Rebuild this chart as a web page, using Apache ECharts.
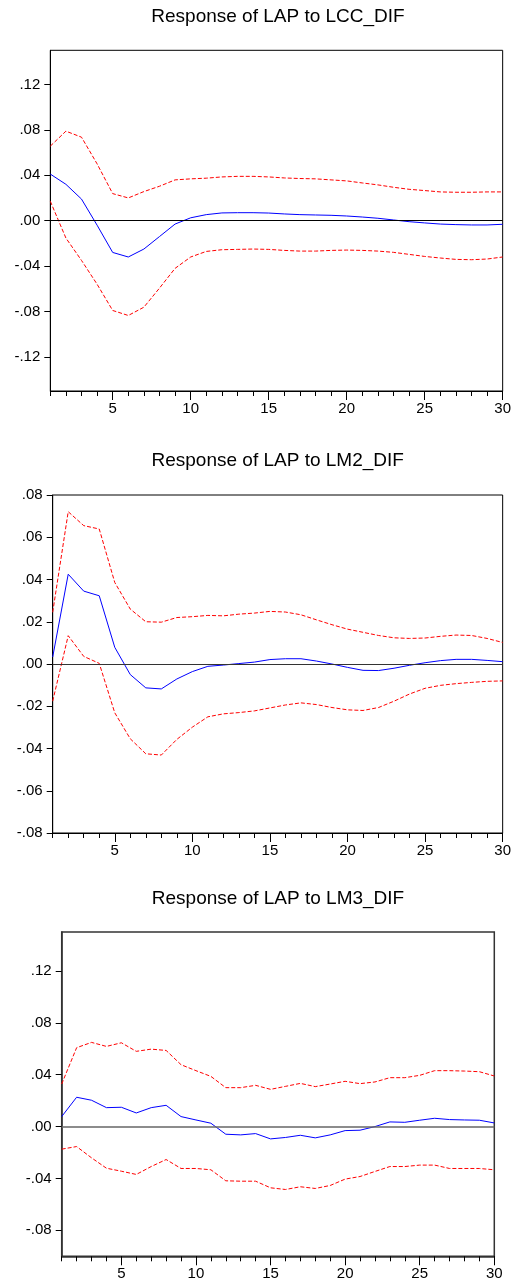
<!DOCTYPE html>
<html>
<head>
<meta charset="utf-8">
<title>Impulse responses of LAP</title>
<script src="https://cdn.jsdelivr.net/npm/echarts@6/dist/echarts.min.js"></script>
<style>
  html, body { margin: 0; padding: 0; background: #ffffff; }
  #chart { width: 514px; height: 1283px; }
</style>
</head>
<body>
<div id="chart"></div>
<script>
// Forecast horizon (periods after the shock)
const periods = [1,2,3,4,5,6,7,8,9,10,11,12,13,14,15,16,17,18,19,20,21,22,23,24,25,26,27,28,29,30];

// Response of LAP to a shock in LCC_DIF, with +/- 2 S.E. bands
const lccResponse = [0.041, 0.032, 0.019, -0.004, -0.028, -0.032, -0.025, -0.014, -0.003, 0.0025,
                     0.0053, 0.0068, 0.007, 0.007, 0.0067, 0.0059, 0.0053, 0.005, 0.0047, 0.0041,
                     0.0032, 0.0021, 0.0006, -0.0009, -0.002, -0.003, -0.0035, -0.0038, -0.0038, -0.0032];
const lccUpper = [0.0656, 0.0788, 0.0735, 0.050, 0.0238, 0.020, 0.0256, 0.0303, 0.0359, 0.0368,
                  0.0374, 0.0385, 0.039, 0.039, 0.0385, 0.0376, 0.0371, 0.0368, 0.0359, 0.035,
                  0.0332, 0.0315, 0.0294, 0.0276, 0.0265, 0.0253, 0.025, 0.025, 0.0253, 0.0253];
const lccLower = [0.0171, -0.0153, -0.035, -0.056, -0.0791, -0.0835, -0.0762, -0.0594, -0.042, -0.032,
                  -0.0271, -0.0256, -0.0253, -0.025, -0.0253, -0.0262, -0.0268, -0.0268, -0.0262, -0.0259,
                  -0.0262, -0.0268, -0.0279, -0.0297, -0.0315, -0.0329, -0.0341, -0.0344, -0.0338, -0.032];

// Response of LAP to a shock in LM2_DIF
const lm2Response = [0.0033, 0.0425, 0.0345, 0.0323, 0.0079, -0.005, -0.0113, -0.0118, -0.0071, -0.0036,
                     -0.0011, -0.0005, 0.0002, 0.0009, 0.0021, 0.0025, 0.0025, 0.0014, 0.0, -0.0016,
                     -0.003, -0.0031, -0.002, -0.0006, 0.0006, 0.0016, 0.0022, 0.0022, 0.0017, 0.0011];
const lm2Upper = [0.0245, 0.0721, 0.0655, 0.0639, 0.0386, 0.026, 0.020, 0.0198, 0.022, 0.0224,
                  0.023, 0.0228, 0.0236, 0.0241, 0.0249, 0.0246, 0.0233, 0.0209, 0.0186, 0.0165,
                  0.015, 0.0135, 0.0124, 0.0121, 0.0123, 0.0131, 0.0137, 0.0135, 0.0121, 0.0102];
const lm2Lower = [-0.0176, 0.0134, 0.0036, 0.0003, -0.0231, -0.0354, -0.0425, -0.0431, -0.0357, -0.0299,
                  -0.025, -0.0236, -0.023, -0.0222, -0.0208, -0.0194, -0.0184, -0.0192, -0.0206, -0.0217,
                  -0.022, -0.0206, -0.0176, -0.0142, -0.0115, -0.0101, -0.0093, -0.0087, -0.0082, -0.008];

// Response of LAP to a shock in LM3_DIF
const lm3Response = [0.0077, 0.0226, 0.0203, 0.0146, 0.0149, 0.0105, 0.0146, 0.0164, 0.0077, 0.0051,
                     0.0026, -0.0059, -0.0064, -0.0054, -0.0095, -0.0084, -0.0067, -0.0087, -0.0064, -0.0031,
                     -0.0028, 0.0, 0.0036, 0.0033, 0.0049, 0.0064, 0.0054, 0.0051, 0.0049, 0.0028];
const lm3Upper = [0.0328, 0.0608, 0.0649, 0.0618, 0.0646, 0.058, 0.0597, 0.0587, 0.0477, 0.0431,
                  0.0387, 0.030, 0.030, 0.0318, 0.0287, 0.031, 0.0333, 0.0308, 0.0328, 0.0349,
                  0.0331, 0.0344, 0.0377, 0.0377, 0.0395, 0.0431, 0.0431, 0.0428, 0.0423, 0.039];
const lm3Lower = [-0.0174, -0.0154, -0.0241, -0.0321, -0.0344, -0.0369, -0.0308, -0.0254, -0.0323, -0.0323,
                  -0.0333, -0.0418, -0.0421, -0.0421, -0.0472, -0.0485, -0.0464, -0.0477, -0.0454, -0.0405,
                  -0.0385, -0.0346, -0.0308, -0.0308, -0.0297, -0.0297, -0.0323, -0.0323, -0.0323, -0.0333];

// Axis tick values
const periodLabels = [5, 10, 15, 20, 25, 30];
const lccTicks = [-0.12, -0.08, -0.04, 0, 0.04, 0.08, 0.12];
const lm2Ticks = [-0.08, -0.06, -0.04, -0.02, 0, 0.02, 0.04, 0.06, 0.08];
const lm3Ticks = [-0.08, -0.04, 0, 0.04, 0.08, 0.12];

const titles = ['Response of LAP to LCC_DIF', 'Response of LAP to LM2_DIF', 'Response of LAP to LM3_DIF'];

const FONT = '"Liberation Sans", Arial, Helvetica, sans-serif';

// EViews-style number format: .12, -.04, .00
function fmt(v) {
  const s = Math.abs(v) < 1e-9 ? '0.00' : v.toFixed(2);
  return s.replace(/^(-?)0\./, '$1.');
}

function pairs(values) {
  return values.map((v, i) => [periods[i], v]);
}

const panels = [
  { title: titles[0], response: lccResponse, upper: lccUpper, lower: lccLower,
    min: -0.15, max: 0.15, ticks: lccTicks,
    box: { left: 50.3, top: 50.3, width: 455.4, height: 340.7 }, titleY: 17,
    border: '#000', borderWidth: 1, zeroColor: '#000', zeroWidth: 1 },
  { title: titles[1], response: lm2Response, upper: lm2Upper, lower: lm2Lower,
    min: -0.08, max: 0.08, ticks: lm2Ticks,
    box: { left: 52.7, top: 495, width: 450, height: 338 }, titleY: 460.3,
    border: '#000', borderWidth: 1, zeroColor: '#333', zeroWidth: 1 },
  { title: titles[2], response: lm3Response, upper: lm3Upper, lower: lm3Lower,
    min: -0.10, max: 0.15, ticks: lm3Ticks,
    box: { left: 61.7, top: 932, width: 432.6, height: 324.3 }, titleY: 898.7,
    border: '#333', borderWidth: 1.5, zeroColor: '#666', zeroWidth: 1.5 }
];

const grid = [], xAxis = [], yAxis = [], series = [], graphic = [];

panels.forEach((p, g) => {
  grid.push({
    left: p.box.left, top: p.box.top, width: p.box.width, height: p.box.height,
    show: true, borderColor: p.border, borderWidth: p.borderWidth,
    backgroundColor: 'transparent', containLabel: false
  });

  // periods axis: a tick on every period, labels every 5
  xAxis.push({
    type: 'value', gridIndex: g, position: 'bottom', min: 1, max: 30, interval: 1,
    axisLine: { show: true, onZero: false, lineStyle: { color: p.border, width: p.borderWidth } },
    axisTick: { show: true, inside: false, length: 5, lineStyle: { color: '#000', width: 1 } },
    axisLabel: { show: true, customValues: periodLabels, margin: 10,
                 color: '#000', fontSize: 15, fontFamily: FONT },
    splitLine: { show: false }
  });
  // longer ticks at the labelled periods
  xAxis.push({
    type: 'value', gridIndex: g, position: 'bottom', min: 1, max: 30, interval: 1,
    axisLine: { show: false, onZero: false },
    axisTick: { show: true, inside: false, length: 9, customValues: periodLabels,
                lineStyle: { color: '#000', width: 1 } },
    axisLabel: { show: false },
    splitLine: { show: false }
  });

  yAxis.push({
    type: 'value', gridIndex: g, position: 'left', min: p.min, max: p.max, interval: 0.01,
    axisLine: { show: true, onZero: false, lineStyle: { color: p.border, width: p.borderWidth } },
    axisTick: { show: true, inside: false, length: 6, customValues: p.ticks,
                lineStyle: { color: '#000', width: 1 } },
    axisLabel: { show: true, customValues: p.ticks, margin: 10, formatter: fmt,
                 color: '#000', fontSize: 15, fontFamily: FONT },
    splitLine: { show: false }
  });

  const xi = g * 2;
  series.push({
    name: 'response', type: 'line', xAxisIndex: xi, yAxisIndex: g,
    data: pairs(p.response), symbol: 'none', z: 3,
    lineStyle: { color: '#0000ff', width: 1 },
    markLine: {
      silent: true, symbol: ['none', 'none'], label: { show: false },
      lineStyle: { color: p.zeroColor, width: p.zeroWidth, type: 'solid' },
      data: [{ yAxis: 0 }]
    }
  });
  series.push({
    name: 'upper', type: 'line', xAxisIndex: xi, yAxisIndex: g,
    data: pairs(p.upper), symbol: 'none', z: 2,
    lineStyle: { color: '#ff0000', width: 1, type: [4, 2] }
  });
  series.push({
    name: 'lower', type: 'line', xAxisIndex: xi, yAxisIndex: g,
    data: pairs(p.lower), symbol: 'none', z: 2,
    lineStyle: { color: '#ff0000', width: 1, type: [4, 2] }
  });

  graphic.push({
    type: 'text', x: p.box.left + p.box.width / 2, y: p.titleY, silent: true,
    style: { text: p.title, fill: '#000', font: '19px ' + FONT,
             textAlign: 'center', textVerticalAlign: 'middle' }
  });
});

const chart = echarts.init(document.getElementById('chart'), null, { renderer: 'canvas' });
chart.setOption({
  animation: false,
  backgroundColor: '#ffffff',
  grid, xAxis, yAxis, series, graphic
});
</script>
</body>
</html>
